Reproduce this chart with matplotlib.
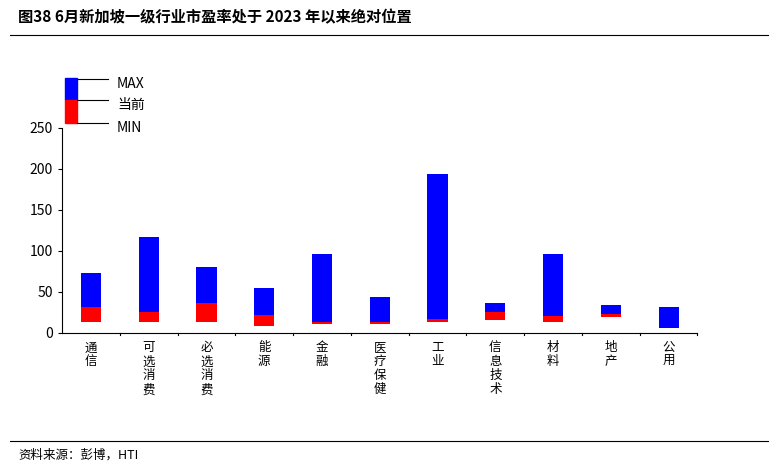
import matplotlib
matplotlib.use("Agg")
import matplotlib.pyplot as plt
from matplotlib.patches import Rectangle
from matplotlib.lines import Line2D

plt.rcParams['font.family'] = ['Noto Sans CJK SC', 'DejaVu Sans']

categories = ["通信", "可选消费", "必选消费", "能源", "金融", "医疗保健", "工业", "信息技术", "材料", "地产", "公用"]
max_vals = [73, 117, 81, 55, 96, 44, 194, 36, 96, 34, 32]
cur_vals = [32, 26, 36, 22, 14, 13, 17, 25, 21, 23, 6]
min_vals = [13, 14, 14, 8, 11, 11, 14, 16, 14, 19, 5.5]
yticks = [0, 50, 100, 150, 200, 250]

fig = plt.figure(figsize=(7.75, 4.68), dpi=100)
ax = fig.add_axes([0.08, 0.2885, 0.82, 0.438])
x = list(range(len(categories)))
red = [c - m for c, m in zip(cur_vals, min_vals)]
blue = [M - c for M, c in zip(max_vals, cur_vals)]
ax.bar(x, red, bottom=min_vals, width=0.35, color="#ff0000")
ax.bar(x, blue, bottom=cur_vals, width=0.35, color="#0000ff")
ax.set_ylim(0, 250)
ax.set_xlim(-0.5, len(categories) - 0.5)
ax.set_yticks(yticks)
ax.tick_params(axis='y', labelsize=10, length=3)
ax.set_xticks(x)
ax.set_xticklabels(["\n".join(c) for c in categories], fontsize=9, linespacing=1.1)
ax.tick_params(axis='x', length=0, pad=6)
for s in ["top", "right"]:
    ax.spines[s].set_visible(False)
for xv in [i + 0.5 for i in x]:
    ax.plot([xv, xv], [0, -3], color="black", lw=0.8, clip_on=False)

# legend
W, H = 775, 468
def fx(px): return px / W
def fy(py): return 1 - py / H
fig.add_artist(Rectangle((fx(65), fy(100)), fx(12), fy(78) - fy(100), transform=fig.transFigure, color="#0000ff"))
fig.add_artist(Rectangle((fx(65), fy(123)), fx(12), fy(100) - fy(123), transform=fig.transFigure, color="#ff0000"))
for py, lab in [(79, "MAX"), (100, "当前"), (123, "MIN")]:
    fig.add_artist(Line2D([fx(77), fx(108)], [fy(py), fy(py)], transform=fig.transFigure, color="black", lw=0.8))
    fig.text(fx(117), fy(py + 9), lab, fontsize=10)

fig.text(fx(18), fy(22), "图38 6月新加坡一级行业市盈率处于 2023 年以来绝对位置", fontsize=11, fontweight="bold")
fig.add_artist(Line2D([fx(10), fx(768)], [fy(35), fy(35)], transform=fig.transFigure, color="black", lw=0.8))
fig.add_artist(Line2D([fx(10), fx(768)], [fy(441), fy(441)], transform=fig.transFigure, color="black", lw=0.8))
fig.text(fx(18), fy(459), "资料来源：彭博，HTI", fontsize=9)

fig.savefig("out.png", dpi=100)
